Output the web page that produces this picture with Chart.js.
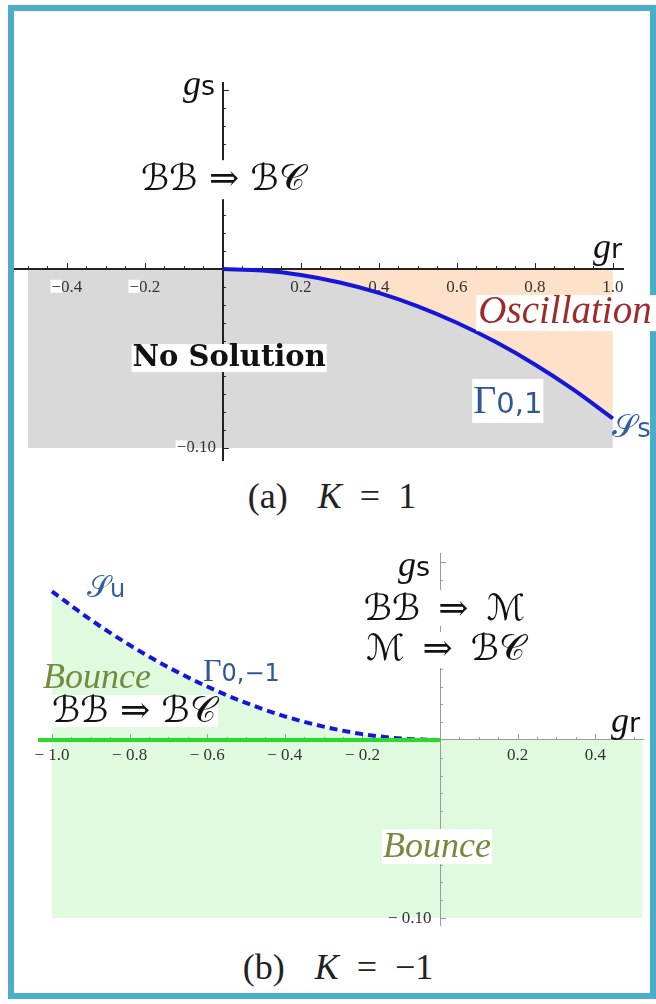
<!DOCTYPE html>
<html>
<head>
<meta charset="utf-8">
<script src="https://cdn.jsdelivr.net/npm/chart.js@4.4.1/dist/chart.umd.min.js"></script>
<style>
  html, body { margin: 0; padding: 0; background: #fff; }
  #page { position: relative; width: 656px; height: 1004px; overflow: hidden; background: #fff; }
  #frame { position: absolute; left: 8px; top: 5px; width: 648px; height: 994px;
           border: 6px solid #4cadc9; box-sizing: border-box; }
  canvas { position: absolute; left: 0; }
  #chartA { top: 60px; }
  #chartB { top: 530px; }
  .caption { position: absolute; left: 0; width: 656px; text-align: center; line-height: 40px;
             font-family: 'Liberation Serif', 'DejaVu Serif', serif; font-size: 36px; color: #222; }
  .caption i { margin-left: 30px; }
  .caption .eq { margin-left: 18px; }
  .caption .num { margin-left: 18px; }
  #capA { top: 476px; padding-left: 8px; box-sizing: border-box; }
  #capB { top: 947px; padding-left: 20px; box-sizing: border-box; }
</style>
</head>
<body>
<div id="page">
  <div id="frame"></div>
  <canvas id="chartA" width="656" height="405"></canvas>
  <canvas id="chartB" width="656" height="410"></canvas>
  <div class="caption" id="capA"><span>(a)</span><i>K</i><span class="eq">=</span><span class="num">1</span></div>
  <div class="caption" id="capB"><span>(b)</span><i>K</i><span class="eq">=</span><span class="num">&minus;1</span></div>
</div>
<script>
// ---- Panel (a): K = 1 ----
const grA = [0, 0.1, 0.2, 0.3, 0.4, 0.5, 0.6, 0.7, 0.8, 0.9, 1.0];
const gsA = [0, -0.0008, -0.0033, -0.0075, -0.0133, -0.0208, -0.0300, -0.0408, -0.0533, -0.0675, -0.0835];
const noSolutionLeftA = [-0.5, 0];          // gs = 0 edge of the gray region for gr < 0
const xRangeA = [-0.533, 1.026];
const yRangeA = [-0.1067, 0.104];
const xTicksA = [-0.4, -0.2, 0.2, 0.4, 0.6, 0.8, 1.0];
const yTicksA = [-0.10];

// ---- Panel (b): K = -1 ----
const grB = [-1.0, -0.9, -0.8, -0.7, -0.6, -0.5, -0.4, -0.3, -0.2, -0.1, 0];
const gsB = [0.0835, 0.0675, 0.0533, 0.0408, 0.0300, 0.0208, 0.0133, 0.0075, 0.0033, 0.0008, 0];
const bounceSpanB = [-1.0, 0.52];           // gr extent of the lower Bounce region
const xRangeB = [-1.036, 0.523];
const yRangeB = [-0.1039, 0.105];
const xTicksB = [-1.0, -0.8, -0.6, -0.4, -0.2, 0.2, 0.4];
const yTicksB = [-0.10];

const MINUS = '\u2212';
const SERIF = "'Liberation Serif', 'DejaVu Serif', serif";
const DSERIF = "'DejaVu Serif', serif";
const SANS = "'DejaVu Sans', 'Noto Sans', sans-serif";
const SCRIPT = "'DejaVu Serif', 'DejaVu Sans', 'Noto Sans', serif";

const pts = (xs, ys) => xs.map((x, i) => ({ x, y: ys[i] }));

// Mathematica-style tick marks: short ticks pointing up from the gr axis, right from the gs axis
const axisTicks = {
  id: 'axisTicks',
  beforeDatasetsDraw(chart, args, o) {
    const { ctx } = chart;
    const sx = chart.scales.x, sy = chart.scales.y;
    const x0 = sx.getPixelForValue(0), y0 = sy.getPixelForValue(0);
    ctx.save();
    ctx.strokeStyle = o.color;
    ctx.lineWidth = o.width;
    ctx.beginPath();
    const nx0 = Math.ceil(sx.min / o.xStep), nx1 = Math.floor(sx.max / o.xStep);
    for (let i = nx0; i <= nx1; i++) {
      if (i === 0) continue;
      const major = i % o.xMajorEvery === 0;
      const px = Math.round(sx.getPixelForValue(i * o.xStep)) + 0.5;
      ctx.moveTo(px, y0);
      ctx.lineTo(px, y0 - (major ? o.majorLen : o.minorLen));
    }
    const ny0 = Math.ceil(sy.min / o.yStep), ny1 = Math.floor(sy.max / o.yStep);
    for (let j = ny0; j <= ny1; j++) {
      if (j === 0) continue;
      const major = j % o.yMajorEvery === 0;
      const py = Math.round(sy.getPixelForValue(j * o.yStep)) + 0.5;
      ctx.moveTo(x0, py);
      ctx.lineTo(x0 + (major ? o.majorLen : o.minorLen), py);
    }
    ctx.stroke();
    ctx.restore();
  }
};

// Rich text annotations anchored in (gr, gs) coordinates
function drawRich(ctx, item, px, py) {
  let w = 0;
  item.parts.forEach(p => { ctx.font = p.font; p.w = ctx.measureText(p.t).width; w += p.w; });
  const x0 = item.align === 'center' ? px - w / 2 : item.align === 'right' ? px - w : px;
  if (item.box) {
    const [padX, up, down, extraRight] = item.box;
    ctx.fillStyle = '#fff';
    ctx.fillRect(x0 - padX, py - up, w + 2 * padX + (extraRight || 0), up + down);
  }
  let x = x0;
  item.parts.forEach(p => {
    ctx.font = p.font;
    ctx.fillStyle = p.color;
    ctx.fillText(p.t, x, py + (p.dy || 0));
    x += p.w;
  });
}

const annotations = {
  id: 'annotations',
  afterDraw(chart, args, o) {
    const { ctx } = chart;
    const sx = chart.scales.x, sy = chart.scales.y;
    ctx.save();
    // white patch behind the minus sign of negative tick labels
    if (o.minusPatch) {
      [sx, sy].forEach(scale => {
        scale.getLabelItems().forEach(it => {
          const label = String(it.label);
          if (label.charAt(0) !== MINUS) return;
          const [tx, ty] = it.options.translation;
          ctx.font = it.font.string;
          ctx.textBaseline = it.options.textBaseline;
          ctx.textAlign = 'left';
          const w = ctx.measureText(label).width;
          const mw = ctx.measureText(MINUS).width;
          const digits = ctx.measureText(label.slice(1));
          const align = it.options.textAlign;
          const left = align === 'center' ? tx - w / 2 : align === 'right' ? tx - w : tx;
          const base = ty + it.textOffset;
          ctx.fillStyle = '#fff';
          ctx.fillRect(left - 1, base - digits.actualBoundingBoxAscent - 1, mw + 2,
                       digits.actualBoundingBoxAscent + digits.actualBoundingBoxDescent + 2);
          ctx.fillStyle = it.options.color;
          ctx.fillText(MINUS, left, base);
        });
      });
    }
    ctx.textAlign = 'left';
    ctx.textBaseline = 'alphabetic';
    o.items.forEach(item => {
      drawRich(ctx, item, sx.getPixelForValue(item.x), sy.getPixelForValue(item.y));
    });
    ctx.restore();
  }
};

// axes through the origin; edge labels must not shrink the plotting area
const noEdgePadding = s => { s.paddingLeft = 0; s.paddingRight = 0; s.paddingTop = 0; s.paddingBottom = 0; };

function axisOptions(xr, yr, xt, yt, xFmt, yFmt, color, width, xPad) {
  const tickFont = { family: SERIF, size: 17 };
  return {
    x: {
      type: 'linear', min: xr[0], max: xr[1], position: { y: 0 },
      grid: { display: false, drawTicks: false },
      border: { display: true, color: color, width: width },
      afterBuildTicks: s => { s.ticks = xt.map(v => ({ value: v })); },
      afterFit: noEdgePadding,
      ticks: { autoSkip: false, maxRotation: 0, padding: xPad, font: tickFont, color: '#333', callback: xFmt }
    },
    y: {
      type: 'linear', min: yr[0], max: yr[1], position: { x: 0 },
      grid: { display: false, drawTicks: false },
      border: { display: true, color: color, width: width },
      afterBuildTicks: s => { s.ticks = yt.map(v => ({ value: v })); },
      afterFit: noEdgePadding,
      ticks: { autoSkip: false, font: tickFont, color: '#333', callback: yFmt }
    }
  };
}

const common = {
  responsive: false,
  animation: false,
  events: [],
  elements: { point: { radius: 0 }, line: { cubicInterpolationMode: 'monotone' } },
};

const curveA = pts(grA, gsA);
const noSolutionEdgeA = pts(noSolutionLeftA, [0, 0]).concat(curveA.slice(1));

new Chart(document.getElementById('chartA'), {
  type: 'line',
  data: {
    datasets: [
      { label: 'Γ0,1', data: curveA, borderColor: '#1616d8', borderWidth: 4, fill: false, order: 0 },
      { label: 'Oscillation', data: curveA, borderWidth: 0, backgroundColor: '#fde1c8', fill: { value: 0 }, order: 2 },
      { label: 'No Solution', data: noSolutionEdgeA, borderWidth: 0, backgroundColor: '#d9d9d9', fill: { value: -0.1 }, order: 3 }
    ]
  },
  options: Object.assign({}, common, {
    layout: { padding: { left: 15, right: 33, top: 23, bottom: 5 } },
    plugins: {
      legend: { display: false }, tooltip: { enabled: false },
      filler: { drawTime: 'beforeDraw' },
      axisTicks: { color: '#222', width: 1, xStep: 0.05, xMajorEvery: 4, yStep: 0.01, yMajorEvery: 5, minorLen: 3, majorLen: 6 },
      annotations: {
        minusPatch: true,
        items: [
          { x: -0.0197, y: 0.0972, align: 'right', parts: [
            { t: 'g', font: 'italic 36px ' + SERIF, color: '#111' },
            { t: 's', font: '27px ' + SANS, color: '#111' } ] },
          { x: 0, y: 0.0441, align: 'center', box: [6, 30, 9], parts: [
            { t: 'ℬℬ ⇒ ℬ𝒞', font: '36px ' + SCRIPT, color: '#111' } ] },
          { x: 1.0239, y: 0.0061, align: 'right', parts: [
            { t: 'g', font: 'italic 36px ' + SERIF, color: '#111' },
            { t: 'r', font: '27px ' + SANS, color: '#111' } ] },
          { x: 0.0162, y: -0.0542, align: 'center', box: [1, 22, 6], parts: [
            { t: 'No Solution', font: 'bold 29px ' + DSERIF, color: '#111' } ] },
          { x: 0.655, y: -0.0302, align: 'left', box: [2, 28, 8, 10], parts: [
            { t: 'Oscillation', font: 'italic 39px ' + SERIF, color: '#9e2a2b' } ] },
          { x: 0.6418, y: -0.0804, align: 'left', box: [1, 34, 10], parts: [
            { t: 'Γ', font: '40px ' + SERIF, color: '#2f5797' },
            { t: '0,1', font: '29px ' + SANS, color: '#2f5797' } ] },
          { x: 0.9982, y: -0.0939, align: 'left', parts: [
            { t: '𝒮', font: '32px ' + SCRIPT, color: '#2f5f9f' },
            { t: 's', font: '26px ' + SANS, color: '#2f5f9f' } ] }
        ]
      }
    },
    scales: axisOptions(xRangeA, yRangeA, xTicksA, yTicksA,
      v => (v < 0 ? MINUS : '') + Math.abs(v).toFixed(1),
      v => (v < 0 ? MINUS : '') + Math.abs(v).toFixed(2) + '\u2009\u2009',
      '#222', 2, 8)
  }),
  plugins: [axisTicks, annotations]
});

const curveB = pts(grB, gsB);

new Chart(document.getElementById('chartB'), {
  type: 'line',
  data: {
    datasets: [
      { label: 'gs = 0 branch', data: pts([xRangeB[0], 0], [0, 0]), borderColor: '#2cd82c', borderWidth: 4, fill: false, order: 0 },
      { label: 'Γ0,-1', data: curveB, borderColor: '#1616d8', borderWidth: 4, borderDash: [8, 5], fill: false, order: 1 },
      { label: 'Bounce (upper)', data: curveB, borderWidth: 0, backgroundColor: '#e0fae0', fill: { value: 0 }, order: 2 },
      { label: 'Bounce (lower)', data: pts(bounceSpanB, [0, 0]), borderWidth: 0, backgroundColor: '#e0fae0', fill: { value: -0.1 }, order: 3 }
    ]
  },
  options: Object.assign({}, common, {
    layout: { padding: { left: 38, right: 13, top: 23, bottom: 15 } },
    plugins: {
      legend: { display: false }, tooltip: { enabled: false },
      filler: { drawTime: 'beforeDraw' },
      axisTicks: { color: '#9a9a9a', width: 1, xStep: 0.05, xMajorEvery: 4, yStep: 0.01, yMajorEvery: 5, minorLen: 3, majorLen: 6 },
      annotations: {
        minusPatch: false,
        items: [
          { x: -0.0258, y: 0.0921, align: 'right', parts: [
            { t: 'g', font: 'italic 36px ' + SERIF, color: '#111' },
            { t: 's', font: '27px ' + SANS, color: '#111' } ] },
          { x: 0.219, y: 0.0674, align: 'right', box: [4, 30, 6], parts: [
            { t: 'ℬℬ\u2002⇒\u2002ℳ', font: '36px ' + SCRIPT, color: '#111' } ] },
          { x: 0.219, y: 0.0449, align: 'right', box: [4, 28, 8], parts: [
            { t: 'ℳ\u2002⇒\u2002ℬ𝒞', font: '36px ' + SCRIPT, color: '#111' } ] },
          { x: 0.5155, y: 0.0045, align: 'right', parts: [
            { t: 'g', font: 'italic 36px ' + SERIF, color: '#111' },
            { t: 'r', font: '27px ' + SANS, color: '#111' } ] },
          { x: -0.9098, y: 0.0803, align: 'left', parts: [
            { t: '𝒮', font: '30px ' + SCRIPT, color: '#2f5f9f' },
            { t: 'u', font: '24px ' + SANS, color: '#2f5f9f' } ] },
          { x: -0.6108, y: 0.0331, align: 'left', parts: [
            { t: 'Γ', font: '32px ' + SERIF, color: '#2f5797' },
            { t: '0,' + MINUS + '1', font: '24px ' + SANS, color: '#2f5797' } ] },
          { x: -1.023, y: 0.0292, align: 'left', parts: [
            { t: 'Bounce', font: 'italic 36px ' + SERIF, color: '#738b3e' } ] },
          { x: -1.0, y: 0.0101, align: 'left', box: [2, 27, 5], parts: [
            { t: 'ℬℬ ⇒ ℬ𝒞', font: '36px ' + SCRIPT, color: '#111' } ] },
          { x: -0.1469, y: -0.0657, align: 'left', box: [1, 28, 7], parts: [
            { t: 'Bounce', font: 'italic 36px ' + SERIF, color: '#738b3e' } ] }
        ]
      }
    },
    scales: axisOptions(xRangeB, yRangeB, xTicksB, yTicksB,
      v => (v < 0 ? MINUS + ' ' : '') + Math.abs(v).toFixed(1),
      v => (v < 0 ? MINUS + ' ' : '') + Math.abs(v).toFixed(2) + '\u2002',
      '#9a9a9a', 1, 5)
  }),
  plugins: [axisTicks, annotations]
});
</script>
</body>
</html>
